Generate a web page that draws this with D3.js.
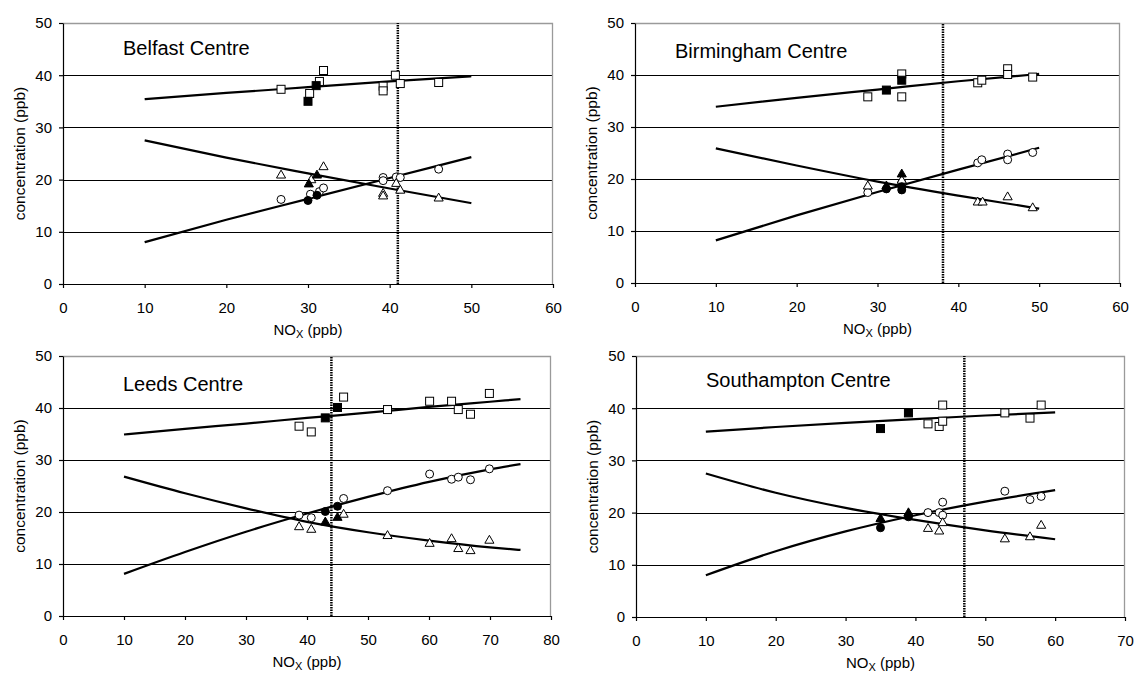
<!DOCTYPE html>
<html>
<head>
<meta charset="utf-8">
<script src="https://cdn.jsdelivr.net/npm/d3@7.9.0/dist/d3.min.js"></script>
<style>
  body { margin: 0; background: #fff; }
  svg { display: block; font-family: Arial, "Liberation Sans", sans-serif; }
</style>
</head>
<body>
<svg id="chart" width="1135" height="675"></svg>
<script>
// site info
const siteNames = ["Belfast Centre", "Birmingham Centre", "Leeds Centre", "Southampton Centre"];
const xMaxes = [60, 60, 80, 70];
const cutoffs = [41, 38.1, 44, 47];

// Belfast
const belfastSquares = [[26.7, 37.3], [30.2, 36.5], [31.4, 38.8], [31.9, 40.9], [39.2, 37.9], [39.2, 37.0], [40.7, 40.0], [41.3, 38.4], [46.0, 38.6]];
const belfastSquaresFilled = [[30.0, 35.0], [31.0, 38.0]];
const belfastCircles = [[26.7, 16.2], [30.3, 17.2], [31.4, 17.7], [31.9, 18.4], [39.2, 20.4], [39.2, 19.8], [40.8, 20.5], [41.3, 20.4], [46.0, 22.0]];
const belfastCirclesFilled = [[30.0, 16.0], [31.1, 17.0]];
const belfastTriangles = [[26.7, 20.9], [30.4, 20.0], [31.9, 22.5], [39.2, 17.4], [39.2, 16.9], [40.8, 19.3], [41.3, 18.0], [46.0, 16.5]];
const belfastTrianglesFilled = [[30.1, 19.2], [31.1, 20.9]];
const belfastTrendX = [10, 20, 30, 40, 50];
const belfastTrendSq = [35.4, 36.6, 37.7, 38.8, 39.8];
const belfastTrendCirc = [8.0, 12.3, 16.3, 20.3, 24.3];
const belfastTrendTri = [27.5, 24.2, 21.2, 18.3, 15.5];

// Birmingham
const birminghamSquares = [[28.8, 35.8], [33.0, 40.2], [33.0, 35.8], [42.4, 38.5], [42.9, 39.0], [46.1, 41.2], [46.1, 40.1], [49.2, 39.6]];
const birminghamSquaresFilled = [[31.1, 37.1], [33.0, 39.0]];
const birminghamCircles = [[28.8, 17.4], [33.0, 19.3], [42.4, 23.1], [42.9, 23.7], [46.1, 24.8], [46.1, 23.7], [49.2, 25.1]];
const birminghamCirclesFilled = [[31.1, 18.1], [33.0, 17.9], [33.0, 18.5]];
const birminghamTriangles = [[28.8, 18.7], [33.0, 19.8], [42.4, 15.6], [43.0, 15.6], [46.1, 16.6], [49.2, 14.5]];
const birminghamTrianglesFilled = [[31.1, 18.7], [33.0, 21.0]];
const birminghamTrendX = [10, 20, 30, 40, 50];
const birminghamTrendSq = [33.9, 35.6, 37.2, 38.8, 40.2];
const birminghamTrendCirc = [8.2, 13.0, 17.5, 21.8, 26.0];
const birminghamTrendTri = [25.9, 22.6, 19.5, 16.8, 14.3];

// Leeds
const leedsSquares = [[38.7, 36.5], [40.7, 35.4], [46.0, 42.1], [53.2, 39.7], [60.1, 41.3], [63.7, 41.3], [64.8, 39.7], [66.8, 38.8], [69.9, 42.8]];
const leedsSquaresFilled = [[43.0, 38.1], [45.0, 40.1]];
const leedsCircles = [[38.7, 19.4], [40.7, 18.9], [46.0, 22.6], [53.2, 24.1], [60.1, 27.3], [63.7, 26.3], [64.8, 26.7], [66.8, 26.2], [69.9, 28.3]];
const leedsCirclesFilled = [[43.0, 20.1], [45.0, 21.1]];
const leedsTriangles = [[38.7, 17.2], [40.7, 16.7], [46.0, 19.6], [53.2, 15.5], [60.1, 14.0], [63.7, 14.9], [64.8, 13.0], [66.8, 12.6], [69.9, 14.6]];
const leedsTrianglesFilled = [[43.0, 18.1], [45.0, 19.0]];
const leedsTrendX = [10, 20, 30, 40, 50, 60, 70, 75];
const leedsTrendSq = [34.9, 36.0, 37.0, 38.1, 39.1, 40.2, 41.2, 41.7];
const leedsTrendCirc = [8.1, 12.3, 16.2, 19.7, 22.9, 25.8, 28.2, 29.2];
const leedsTrendTri = [26.8, 23.6, 20.7, 18.1, 16.1, 14.5, 13.2, 12.7];

// Southampton
const southamptonSquares = [[41.8, 37.0], [43.4, 36.5], [43.9, 40.6], [43.9, 37.5], [52.8, 39.1], [56.4, 38.1], [58.0, 40.6]];
const southamptonSquaresFilled = [[35.0, 36.1], [39.0, 39.1]];
const southamptonCircles = [[41.8, 20.0], [43.4, 20.0], [43.9, 22.0], [43.9, 19.5], [52.8, 24.1], [56.4, 22.5], [58.0, 23.1]];
const southamptonCirclesFilled = [[35.0, 17.1], [39.0, 19.2]];
const southamptonTriangles = [[41.8, 17.0], [43.4, 16.5], [43.9, 18.1], [52.8, 15.0], [56.4, 15.4], [58.0, 17.6]];
const southamptonTrianglesFilled = [[35.0, 18.9], [39.0, 20.0]];
const southamptonTrendX = [10, 20, 30, 40, 50, 60];
const southamptonTrendSq = [35.5, 36.4, 37.2, 37.9, 38.6, 39.2];
const southamptonTrendCirc = [8.0, 12.6, 16.4, 19.5, 22.1, 24.3];
const southamptonTrendTri = [27.5, 23.8, 20.9, 18.6, 16.6, 14.9];

const yTicks = [0, 10, 20, 30, 40, 50];

const siteData = [
  { sq: belfastSquares, sqF: belfastSquaresFilled, ci: belfastCircles, ciF: belfastCirclesFilled, tr: belfastTriangles, trF: belfastTrianglesFilled,
    tx: belfastTrendX, tSq: belfastTrendSq, tCi: belfastTrendCirc, tTr: belfastTrendTri },
  { sq: birminghamSquares, sqF: birminghamSquaresFilled, ci: birminghamCircles, ciF: birminghamCirclesFilled, tr: birminghamTriangles, trF: birminghamTrianglesFilled,
    tx: birminghamTrendX, tSq: birminghamTrendSq, tCi: birminghamTrendCirc, tTr: birminghamTrendTri },
  { sq: leedsSquares, sqF: leedsSquaresFilled, ci: leedsCircles, ciF: leedsCirclesFilled, tr: leedsTriangles, trF: leedsTrianglesFilled,
    tx: leedsTrendX, tSq: leedsTrendSq, tCi: leedsTrendCirc, tTr: leedsTrendTri },
  { sq: southamptonSquares, sqF: southamptonSquaresFilled, ci: southamptonCircles, ciF: southamptonCirclesFilled, tr: southamptonTriangles, trF: southamptonTrianglesFilled,
    tx: southamptonTrendX, tSq: southamptonTrendSq, tCi: southamptonTrendCirc, tTr: southamptonTrendTri }
];

// panel placement (plot area boxes)
const layout = [
  { left: 63, top: 23, w: 490, h: 261, titleX: 60, titleY: 32 },
  { left: 635, top: 23, w: 485, h: 260, titleX: 40, titleY: 35 },
  { left: 63, top: 356, w: 488, h: 260, titleX: 60, titleY: 35 },
  { left: 636, top: 356, w: 489, h: 261, titleX: 70, titleY: 31 }
];

const svg = d3.select("#chart");
const triangle = d3.symbol().type(d3.symbolTriangle).size(36);

siteNames.forEach((name, i) => {
  const L = layout[i];
  const d = siteData[i];
  const g = svg.append("g").attr("transform", `translate(${L.left},${L.top})`);

  const x = d3.scaleLinear().domain([0, xMaxes[i]]).range([0, L.w]);
  const y = d3.scaleLinear().domain([0, 50]).range([L.h, 0]);

  // gridlines
  g.selectAll("line.grid")
    .data(yTicks.filter((t) => t > 0 && t < 50))
    .join("line")
    .attr("x1", 0).attr("x2", L.w)
    .attr("y1", (t) => Math.round(y(t)) + 0.5).attr("y2", (t) => Math.round(y(t)) + 0.5)
    .attr("stroke", "#000").attr("stroke-width", 1);

  // plot border top + right (grey)
  g.append("path")
    .attr("d", `M0,0.5H${L.w - 0.5}V${L.h}`)
    .attr("fill", "none").attr("stroke", "#9a9a9a").attr("stroke-width", 1.3);

  // axes
  const xAxis = d3.axisBottom(x).ticks(xMaxes[i] / 10).tickSize(4).tickPadding(14).tickSizeOuter(0);
  const yAxis = d3.axisLeft(y).tickValues(yTicks).tickSize(4).tickPadding(7).tickSizeOuter(0);

  const gx = g.append("g").attr("transform", `translate(0,${L.h})`).call(xAxis);
  const gy = g.append("g").call(yAxis);
  [gx, gy].forEach((a) => {
    a.selectAll("text").attr("font-size", 15).attr("fill", "#000").attr("font-family", "Arial, 'Liberation Sans', sans-serif");
    a.selectAll("line, path").attr("stroke", "#000").attr("stroke-width", 1.2);
  });

  // trend lines
  const line = d3.line().curve(d3.curveMonotoneX).x((p) => x(p[0])).y((p) => y(p[1]));
  [d.tSq, d.tCi, d.tTr].forEach((vals) => {
    g.append("path")
      .attr("d", line(d.tx.map((v, k) => [v, vals[k]])))
      .attr("fill", "none").attr("stroke", "#000").attr("stroke-width", 2.2);
  });

  // cutoff dotted line
  g.append("line")
    .attr("x1", x(cutoffs[i])).attr("x2", x(cutoffs[i]))
    .attr("y1", y(0)).attr("y2", y(50))
    .attr("stroke", "#000").attr("stroke-width", 2.5).attr("stroke-dasharray", "1.5,1");

  // markers: open first, filled on top
  const drawSquares = (pts, fill) => g.append("g").selectAll("rect").data(pts).join("rect")
    .attr("x", (p) => x(p[0]) - 4).attr("y", (p) => y(p[1]) - 4)
    .attr("width", 8).attr("height", 8)
    .attr("fill", fill).attr("stroke", "#000").attr("stroke-width", 1);
  const drawCircles = (pts, fill) => g.append("g").selectAll("circle").data(pts).join("circle")
    .attr("cx", (p) => x(p[0])).attr("cy", (p) => y(p[1])).attr("r", 4)
    .attr("fill", fill).attr("stroke", "#000").attr("stroke-width", 1);
  const drawTriangles = (pts, fill) => g.append("g").selectAll("path").data(pts).join("path")
    .attr("d", triangle)
    .attr("transform", (p) => `translate(${x(p[0])},${y(p[1]) + 0.5})`)
    .attr("fill", fill).attr("stroke", "#000").attr("stroke-width", 1);

  drawSquares(d.sq, "#fff");
  drawCircles(d.ci, "#fff");
  drawTriangles(d.tr, "#fff");
  drawSquares(d.sqF, "#000");
  drawCircles(d.ciF, "#000");
  drawTriangles(d.trF, "#000");

  // titles
  g.append("text")
    .attr("x", L.titleX).attr("y", L.titleY)
    .attr("font-size", 20).attr("fill", "#000")
    .text(name);

  const xt = g.append("text")
    .attr("x", L.w / 2).attr("y", L.h + 51)
    .attr("text-anchor", "middle").attr("font-size", 15).attr("fill", "#000");
  xt.append("tspan").text("NO");
  xt.append("tspan").attr("font-size", 11).attr("dy", 3).text("X");
  xt.append("tspan").attr("dy", -3).text(" (ppb)");

  g.append("text")
    .attr("transform", `translate(-43,${L.h / 2}) rotate(-90)`)
    .attr("text-anchor", "middle").attr("dy", "0.35em")
    .attr("font-size", 15.5).attr("fill", "#000")
    .text("concentration (ppb)");
});
</script>
</body>
</html>
